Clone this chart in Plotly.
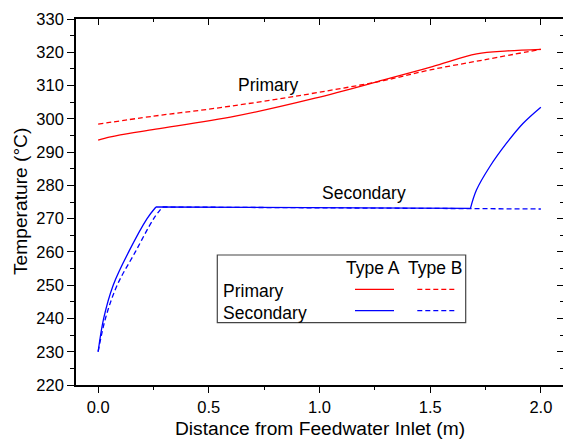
import plotly.graph_objects as go

# ---- data ----
prim_a_x = [0, 0.05, 0.1, 0.26, 0.62, 0.98, 1.29, 1.51, 1.71, 1.85, 2.0]
prim_a_t = [293.6, 294.5, 295.2, 296.9, 300.8, 306.2, 311.7, 315.7, 319.5, 320.4, 320.9]

prim_b_x = [0, 0.25, 0.5, 0.75, 1.0, 1.29, 1.5, 1.75, 2.0]
prim_b_t = [298.4, 300.8, 302.9, 305.3, 308.0, 311.5, 314.7, 317.8, 320.9]

sec_a_x = [0, 0.025, 0.068, 0.138, 0.221, 0.261, 0.5, 1.0, 1.5, 1.682, 1.709, 1.769, 1.844, 1.919, 2.0]
sec_a_t = [230, 240, 250, 260, 270, 273.5, 273.45, 273.3, 273.15, 273.1, 278.6, 285.6, 292.6, 298.6, 303.5]

sec_b_x = [0, 0.033, 0.086, 0.168, 0.251, 0.291, 1.0, 2.0]
sec_b_t = [230, 240, 250, 260, 270, 273.5, 273.2, 272.9]

x_range = [-0.1, 2.1]
y_range = [220, 330]

RED = "#ff0000"
BLUE = "#0000ff"
DASH = "5px,3px"
FONT = "Liberation Sans, Arial, sans-serif"

W, H = 563, 439
ML, MR, MT, MB = 76, 0, 19, 54


def px(x):
    return (x - ML) / (W - ML - MR)


def py(y):
    return (H - MB - y) / (H - MT - MB)


fig = go.Figure()


def add_segments(xs, ys, breaks, color, dash=None):
    """Draw a series as consecutive pieces split at the corner indices;
    rising pieces are smoothed, flat plateaus stay straight."""
    idx = [0] + breaks + [len(xs) - 1]
    for a, b in zip(idx[:-1], idx[1:]):
        seg_x = xs[a:b + 1]
        seg_y = ys[a:b + 1]
        flat = abs(seg_y[-1] - seg_y[0]) < 2
        line = dict(color=color, width=1.3, shape="linear" if flat else "spline",
                    smoothing=1.0)
        if dash:
            line["dash"] = dash
        fig.add_trace(go.Scatter(x=seg_x, y=seg_y, mode="lines", line=line,
                                 showlegend=False, hoverinfo="x+y"))


add_segments(prim_a_x, prim_a_t, [], RED)
add_segments(prim_b_x, prim_b_t, [], RED, DASH)
add_segments(sec_a_x, sec_a_t, [5, 9], BLUE)
add_segments(sec_b_x, sec_b_t, [5], BLUE, DASH)

# dummy trace to activate mirrored axes
fig.add_trace(go.Scatter(x=[None], y=[None], xaxis="x2", yaxis="y2",
                         showlegend=False, hoverinfo="skip"))

tickfont = dict(family=FONT, size=16.5, color="black")
common = dict(showgrid=False, zeroline=False, showline=True, linecolor="black",
              linewidth=1.6, tickcolor="black", tickwidth=1.4)

fig.update_layout(
    width=W, height=H,
    margin=dict(l=ML, r=MR, t=MT, b=MB),
    paper_bgcolor="white", plot_bgcolor="white",
    font=dict(family=FONT, color="black"),
    xaxis=dict(range=x_range, dtick=0.5, tick0=0, tickformat=".1f",
               ticks="outside", ticklen=6, tickfont=tickfont,
               minor=dict(dtick=0.25, tick0=0, ticks="outside", ticklen=3,
                          tickcolor="black", tickwidth=1.2),
               **common),
    yaxis=dict(range=y_range, dtick=10, tick0=220,
               ticks="outside", ticklen=7, tickfont=tickfont,
               minor=dict(dtick=5, tick0=220, ticks="outside", ticklen=4,
                          tickcolor="black", tickwidth=1.2),
               **common),
    xaxis2=dict(range=x_range, overlaying="x", side="top", anchor="y",
                dtick=0.5, tick0=0, ticks="inside", ticklen=6,
                showticklabels=False,
                minor=dict(dtick=0.25, tick0=0, ticks="inside", ticklen=3,
                           tickcolor="black", tickwidth=1.2),
                **common),
    yaxis2=dict(range=y_range, overlaying="y", side="right", anchor="x",
                dtick=10, tick0=220, ticks="inside", ticklen=6,
                showticklabels=False,
                minor=dict(dtick=5, tick0=220, ticks="inside", ticklen=3,
                           tickcolor="black", tickwidth=1.2),
                **common),
)

ann_font = dict(family=FONT, size=17.5, color="black")
title_font = dict(family=FONT, size=19.2, color="black")

annotations = [
    # axis titles
    dict(text="Distance from Feedwater Inlet (m)", x=px(319.5), y=py(428), xref="paper", yref="paper",
         showarrow=False, font=title_font, xanchor="center", yanchor="middle"),
    dict(text="Temperature (°C)", x=px(20), y=0.5, xref="paper", yref="paper",
         showarrow=False, font=title_font, textangle=-90, xanchor="center", yanchor="middle"),
    # curve labels
    dict(text="Primary", x=0.768, y=310.2, xref="x", yref="y", showarrow=False,
         font=ann_font, xanchor="center", yanchor="middle"),
    dict(text="Secondary", x=1.2, y=277.7, xref="x", yref="y", showarrow=False,
         font=ann_font, xanchor="center", yanchor="middle"),
    # legend texts
    dict(text="Type A", x=px(373.3), y=py(268.3), xref="paper", yref="paper", showarrow=False,
         font=ann_font, xanchor="center", yanchor="middle"),
    dict(text="Type B", x=px(435), y=py(268.3), xref="paper", yref="paper", showarrow=False,
         font=ann_font, xanchor="center", yanchor="middle"),
    dict(text="Primary", x=px(220.7), y=py(290.5), xref="paper", yref="paper", showarrow=False,
         font=ann_font, xanchor="left", yanchor="middle"),
    dict(text="Secondary", x=px(220.7), y=py(312.5), xref="paper", yref="paper", showarrow=False,
         font=ann_font, xanchor="left", yanchor="middle"),
]
fig.update_layout(annotations=annotations)

shapes = [
    dict(type="rect", xref="paper", yref="paper", x0=px(217.3), x1=px(465.7),
         y0=py(322.7), y1=py(255), line=dict(color="#444444", width=1.2), fillcolor="rgba(0,0,0,0)"),
    dict(type="line", xref="paper", yref="paper", x0=px(355), x1=px(394), y0=py(289.3), y1=py(289.3),
         line=dict(color=RED, width=1.3)),
    dict(type="line", xref="paper", yref="paper", x0=px(417.3), x1=px(455), y0=py(289.3), y1=py(289.3),
         line=dict(color=RED, width=1.3, dash=DASH)),
    dict(type="line", xref="paper", yref="paper", x0=px(355), x1=px(394), y0=py(310.7), y1=py(310.7),
         line=dict(color=BLUE, width=1.3)),
    dict(type="line", xref="paper", yref="paper", x0=px(417.3), x1=px(455), y0=py(310.7), y1=py(310.7),
         line=dict(color=BLUE, width=1.3, dash=DASH)),
]
fig.update_layout(shapes=shapes)

fig.write_html("out.html")
